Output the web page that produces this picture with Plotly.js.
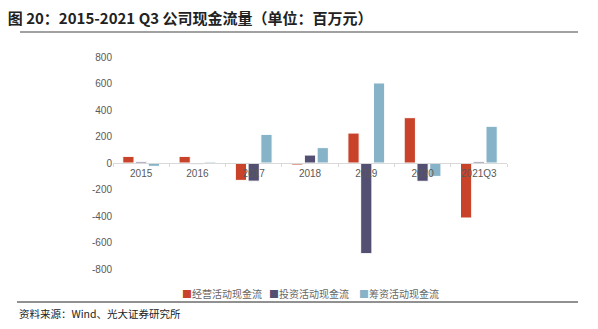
<!DOCTYPE html>
<html><head><meta charset="utf-8">
<script src="https://cdn.plot.ly/plotly-3.0.1.min.js"></script>
<style>html,body{margin:0;padding:0;background:#fff;}#c{width:598px;height:329px;}</style>
</head><body><div id="c"></div>
<script>
const categories = ['2015','2016','2017','2018','2019','2020','2021Q3'];
const operating = [50, 50, -131, -15, 226, 342, -415];
const investing = [10, -10, -137, 60, -684, -138, 10];
const financing = [-25, 8, 216, 116, 604, -101, 277];
const seriesNames = ['经营活动现金流','投资活动现金流','筹资活动现金流'];
const yTicks = [-800,-600,-400,-200,0,200,400,600,800];

const colors = ['#C8432A','#534F73','#86B3C7'];
const vals = [operating, investing, financing];
const traces = vals.map((v,i)=>({
  type:'bar', x:categories, y:v, name:seriesNames[i], showlegend:false,
  marker:{color:colors[i], line:{color:'#ffffff', width:1}}
}));

const W = 394, H = 212, L = 113, T = 57;
const px = x => (x - L) / W;
const py = y => (T + H - y) / H;

const annotations = [];
const legX = [180, 267, 357];
seriesNames.forEach((n,i)=>{
  annotations.push({xref:'paper', yref:'paper', x:px(legX[i]), y:py(293), xanchor:'left', yanchor:'middle', showarrow:false,
    text:'<span style="color:'+colors[i]+'">■</span>'+n, font:{family:'Noto Sans CJK SC', size:10, color:'#666'}});
});
annotations.push({xref:'paper', yref:'paper', x:px(17), y:py(313), xanchor:'left', yanchor:'middle',
  text:'资料来源：Wind、光大证券研究所', showarrow:false, font:{family:'Noto Sans CJK SC', size:10.5, color:'#222'}});

const shapes = [];
shapes.push({type:'line', xref:'paper', yref:'paper', x0:px(20), x1:px(578), y0:py(32), y1:py(32), line:{color:'#444', width:1.2}});
shapes.push({type:'line', xref:'paper', yref:'paper', x0:px(17), x1:px(578), y0:py(302), y1:py(302), line:{color:'#222', width:1}});

const layout = {
  width:598, height:329,
  margin:{l:113, r:91, t:57, b:60},
  paper_bgcolor:'#fff', plot_bgcolor:'#fff',
  title:{text:'<b>图 20：2015-2021 Q3 公司现金流量（单位：百万元）</b>', xref:'container', yref:'container', x:0.013, xanchor:'left', y:1-19/329, yanchor:'middle',
    font:{family:'Noto Sans CJK SC', size:15, color:'#222'}},
  barmode:'group', bargap:0.32, bargroupgap:0.12,
  xaxis:{type:'category', anchor:'free', position:0.5, showline:true, linecolor:'#D9D9D9', linewidth:1,
    ticks:'outside', tickson:'boundaries', ticklen:3, tickcolor:'#D9D9D9', showgrid:false, zeroline:false,
    tickfont:{family:'Liberation Sans', size:10, color:'#595959'}, ticklabelstandoff:1},
  yaxis:{range:[-800,800], tickvals:yTicks, ticktext:yTicks.map(String), showgrid:false, zeroline:false, showline:false,
    ticks:'', tickfont:{family:'Liberation Sans', size:10, color:'#595959'}, fixedrange:true},
  showlegend:false,
  shapes:shapes, annotations:annotations
};
Plotly.newPlot('c', traces, layout, {displayModeBar:false, staticPlot:true});
</script></body></html>
